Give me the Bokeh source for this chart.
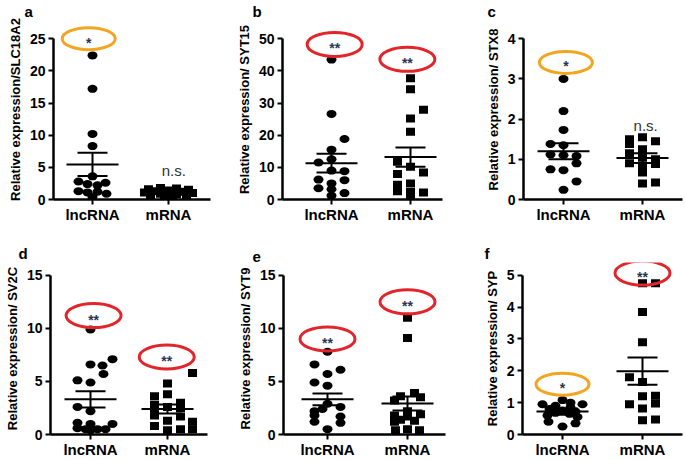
from bokeh.plotting import figure
from bokeh.layouts import row, column
from bokeh.models import FixedTicker
from bokeh.embed import file_html
from bokeh.resources import INLINE
from bokeh.core.properties import value

categories = ["lncRNA", "mRNA"]

# ---- data ----
a_lnc = [22.4, 17.2, 10.2, 8.3, 3.6, 2.8, 2.6, 2.4, 2.2, 1.3, 1.2, 1.1, 0.9, 0.4]
a_lnc_jit = [0, 0, 0, 0, 0, -14, 13, -5, 5, -14, 5, -5, 14, 0]
a_mrna = [1.8, 1.7, 1.6, 1.5, 1.4, 1.3, 1.2, 1.1, 1.0, 1.0, 0.9, 0.8, 0.7, 0.6, 0.5, 0.4]
a_mrna_jit = [-8, 8, -20, 20, 0, -14, 14, -24, 24, 0, -8, 8, -18, 18, -4, 4]
a_mean = [5.45, 1.0]
a_sem = [1.8, 0.12]

b_lnc = [43.5, 26.6, 18.8, 15.5, 12.5, 11.5, 9.0, 8.8, 6.2, 6.0, 5.0, 3.5, 3.2, 2.0, 1.2]
b_lnc_jit = [0, 0, 13, 0, 0, -13, 0, 13, -13, 13, 0, -13, 0, 13, 0]
b_mrna = [37.7, 34.3, 27.9, 25.2, 21.1, 11.7, 10.2, 8.4, 7.9, 5.0, 4.6, 2.6, 2.3, 2.2, 1.2]
b_mrna_jit = [0, 0, 13, 0, 0, -13, 0, 13, -13, 0, -13, -13, 0, 13, 0]
b_mean = [11.3, 13.2]
b_sem = [2.9, 3.0]

c_lnc = [3.0, 2.2, 1.73, 1.38, 1.35, 1.12, 1.1, 1.08, 0.9, 0.75, 0.73, 0.45, 0.24]
c_lnc_jit = [0, 0, 0, -13, 0, -13, 0, 13, 13, -13, 0, 13, 0]
c_mrna = [1.55, 1.5, 1.45, 1.38, 1.25, 1.15, 1.05, 1.0, 0.9, 0.88, 0.85, 0.67, 0.42, 0.40]
c_mrna_jit = [0, -13, 13, -13, 0, -13, 0, 13, -13, 13, 0, 0, 13, 0]
c_mean = [1.2, 1.03]
c_sem = [0.2, 0.12]

d_lnc = [9.9, 7.1, 6.6, 6.5, 5.7, 5.1, 4.9, 2.6, 2.2, 1.1, 1.0, 1.0, 0.6, 0.5, 0.5, 0.5, 0.4]
d_lnc_jit = [0, 22, 0, 12, 13, -13, 0, -13, 0, -13, 0, 22, -13, -5, 7, 15, 0]
d_mrna = [5.8, 4.8, 3.8, 3.6, 3.0, 2.8, 2.6, 2.5, 2.2, 1.8, 1.7, 1.3, 1.2, 0.8, 0.5, 0.4, 0.5]
d_mrna_jit = [25, 0, 0, -13, 13, -13, 0, 13, -13, -13, 13, 0, 25, -13, 13, 0, 25]
d_mean = [3.31, 2.4]
d_sem = [0.76, 0.42]

e_lnc = [7.8, 6.6, 6.1, 5.7, 4.9, 4.6, 2.9, 2.6, 2.4, 2.2, 1.8, 1.7, 1.2, 1.1, 0.5]
e_lnc_jit = [0, -13, 13, 0, -13, 0, 0, 13, -5, -13, -13, 13, -13, 13, 0]
e_mrna = [11.0, 9.1, 3.9, 3.6, 3.5, 3.2, 2.2, 1.9, 1.8, 1.7, 1.4, 1.3, 1.2, 0.5, 0.4, 0.4]
e_mrna_jit = [0, 0, 7, -7, 13, -13, 0, 13, -13, 0, -7, 7, -13, 0, 12, -12]
e_mean = [3.31, 2.92]
e_sem = [0.55, 0.67]

f_lnc = [1.08, 1.0, 0.95, 0.95, 0.9, 0.85, 0.8, 0.75, 0.72, 0.68, 0.65, 0.6, 0.55, 0.4, 0.35, 0.25]
f_lnc_jit = [0, 8, -20, 20, -7, 8, -13, 0, 13, -7, 7, -15, 15, -14, 13, 0]
f_mrna = [4.75, 4.75, 3.85, 2.9, 1.8, 1.65, 1.22, 1.2, 0.97, 0.95, 0.82, 0.47, 0.45]
f_mrna_jit = [0, 13, 0, 0, -13, 0, 13, 0, 13, -13, 0, 13, 0]
f_mean = [0.72, 1.99]
f_sem = [0.1, 0.43]

# significance marks: (text, x, y, kind)
a_sig = [("*", 0.95, 25.0, "one")]
b_sig = [("**", 1.04, 48.2, "two"), ("**", 1.96, 43.6, "two")]
c_sig = [("*", 1.03, 3.41, "one")]
d_sig = [("**", 1.04, 11.2, "two"), ("**", 1.99, 7.3, "two")]
e_sig = [("**", 1.0, 9.0, "two"), ("**", 2.0, 12.5, "two")]
f_sig = [("*", 1.0, 1.58, "one"), ("**", 2.0, 5.07, "two")]
a_ns = [(2.07, 4.5)]
c_ns = [(2.04, 1.85)]

ylabels = ["Relative expression/SLC18A2", "Relative expression/ SYT15",
           "Relative expression/ STX8", "Relative expression/ SV2C",
           "Relative expression/ SYT9", "Relative expression/ SYP"]
letters = ["a", "b", "c", "d", "e", "f"]
yticks = [[0, 5, 10, 15, 20, 25], [0, 10, 20, 30, 40, 50], [0, 1, 2, 3, 4],
          [0, 5, 10, 15], [0, 5, 10, 15], [0, 1, 2, 3, 4, 5]]

# ---- layout / style (pixels) ----
# W, H, frame_l, frame_r, frame_t, frame_b, x1px, x2px, ytop_px, title standoff
geoms = [
    (228, 225, 53, 210, 17, 200, 92, 168, 36.5, 0),
    (230, 225, 54, 214, 17, 200, 103, 182, 36.5, 0),
    (227, 225, 65, 224, 17, 200, 105, 184, 36.5, 0),
    (228, 235, 50, 207, 37, 212, 90, 167, 50, 2),
    (230, 235, 55, 217, 37, 212, 99, 179, 50, 2),
    (227, 235, 64, 224, 37, 212, 104, 184, 50, 2),
]
letter_left = [24, 24, 29, 18, 24, 26]
ell_sizes = {"one": (53, 22), "two": (55, 24)}
ell_colors = {"one": "#F4A520", "two": "#E3242B"}
FONT = "Liberation Sans"


def build(i, lnc, lnc_jit, mrna, mrna_jit, mean, sem, sig, ns):
    W, H, fl, fr, ft, fb, x1, x2, yt, tso = geoms[i]
    ymax = yticks[i][-1]
    ppx = x2 - x1
    ppy = (fb - yt) / ymax
    xs0 = 1 + (fl - x1) / ppx
    xs1 = 1 + (fr - x1) / ppx
    ye = (fb - ft) / ppy
    p = figure(width=W, height=H, x_range=(xs0, xs1), y_range=(0, ye),
               output_backend="svg", toolbar_location=None, title=letters[i],
               min_border_left=fl, min_border_right=W - fr,
               min_border_top=ft, min_border_bottom=H - fb)
    p.title.align = "left"
    p.title.offset = letter_left[i] - fl
    p.title.text_font = FONT
    p.title.text_font_style = "bold"
    p.title.text_font_size = "15px"
    p.title.text_color = "black"
    p.title.standoff = tso
    p.outline_line_color = None
    p.xgrid.visible = False
    p.ygrid.visible = False
    for ax in (p.xaxis[0], p.yaxis[0]):
        ax.axis_line_width = 2.5
        ax.axis_line_color = "black"
        ax.major_tick_line_width = 2
        ax.major_tick_line_color = "black"
        ax.major_tick_out = 5
        ax.major_tick_in = 0
        ax.minor_tick_line_color = None
        ax.major_label_text_font = FONT
        ax.major_label_text_font_style = "bold"
        ax.major_label_text_color = "black"
    p.yaxis.ticker = FixedTicker(ticks=yticks[i])
    p.yaxis.bounds = (0, ymax)
    p.yaxis.major_label_text_font_size = "14px"
    p.yaxis.major_label_standoff = 3
    p.yaxis.axis_label = ylabels[i]
    p.yaxis.axis_label_text_font = FONT
    p.yaxis.axis_label_text_font_style = "bold"
    p.yaxis.axis_label_text_font_size = "13px"
    p.yaxis.axis_label_text_color = "black"
    p.yaxis.axis_label_standoff = 4
    p.xaxis.ticker = FixedTicker(ticks=[1, 2])
    p.xaxis.major_label_overrides = {1: categories[0], 2: categories[1]}
    p.xaxis.major_label_text_font_size = "15px"
    p.xaxis.major_label_standoff = 1

    # points
    p.ellipse(x=[1 + j / ppx for j in lnc_jit], y=lnc, width=10, height=8,
              width_units="screen", height_units="screen",
              fill_color="black", line_color=None)
    p.rect(x=[2 + j / ppx for j in mrna_jit], y=mrna, width=9, height=8,
           width_units="screen", height_units="screen",
           fill_color="black", line_color=None)
    # mean and SEM
    cx = [1, 2]
    p.rect(x=cx, y=mean, width=52, height=2, width_units="screen", height_units="screen",
           fill_color="black", line_color=None)
    lo = [m - s for m, s in zip(mean, sem)]
    hi = [m + s for m, s in zip(mean, sem)]
    p.rect(x=cx + cx, y=lo + hi, width=30, height=2, width_units="screen",
           height_units="screen", fill_color="black", line_color=None)
    p.segment(x0=cx, x1=cx, y0=lo, y1=hi, line_color="black", line_width=2)

    # significance
    for txt, sx, sy, kind in sig:
        w, h = ell_sizes[kind]
        p.ellipse(x=[sx], y=[sy], width=w, height=h, width_units="screen",
                  height_units="screen", fill_color=None,
                  line_color=ell_colors[kind], line_width=3)
        p.text(x=[sx], y=[sy], text=[txt], text_align="center", text_baseline="middle",
               y_offset=4, text_font=value(FONT), text_font_style="bold",
               text_font_size="14px", text_color="#2a3550")
    for nx, ny in ns:
        p.text(x=[nx], y=[ny], text=["n.s."], text_align="center", text_baseline="middle",
               text_font=value(FONT), text_font_size="15px", text_color="#333333")
    return p


pa = build(0, a_lnc, a_lnc_jit, a_mrna, a_mrna_jit, a_mean, a_sem, a_sig, a_ns)
pb = build(1, b_lnc, b_lnc_jit, b_mrna, b_mrna_jit, b_mean, b_sem, b_sig, [])
pc = build(2, c_lnc, c_lnc_jit, c_mrna, c_mrna_jit, c_mean, c_sem, c_sig, c_ns)
pd = build(3, d_lnc, d_lnc_jit, d_mrna, d_mrna_jit, d_mean, d_sem, d_sig, [])
pe = build(4, e_lnc, e_lnc_jit, e_mrna, e_mrna_jit, e_mean, e_sem, e_sig, [])
pf = build(5, f_lnc, f_lnc_jit, f_mrna, f_mrna_jit, f_mean, f_sem, f_sig, [])

p = column(row(pa, pb, pc), row(pd, pe, pf))
open("out.html", "w").write(file_html(p, INLINE))
